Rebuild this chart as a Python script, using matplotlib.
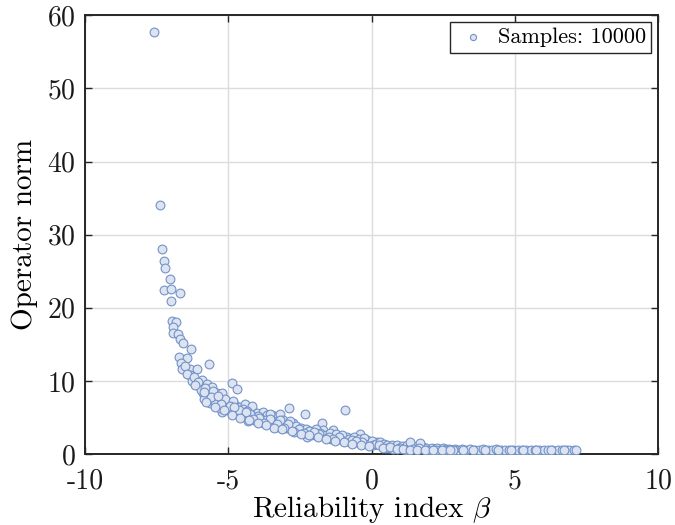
import numpy as np
import matplotlib
matplotlib.use('Agg')
import matplotlib.pyplot as plt

#%%%%%%%%%% Datos (beta, norma del operador)
# Puntos aislados arriba a la izquierda
beta_alto = [-7.59, -7.38, -7.30, -7.23, -7.20, -7.04, -7.23, -7.00, -6.68, -7.01,
             -6.97, -6.83, -6.94, -6.92, -6.74, -6.68, -6.59, -6.30, -6.72, -6.43,
             -6.66, -6.60, -5.67, -6.34, -6.10, -6.34, -6.26, -5.93, -5.99, -5.75,
             -5.58, -5.87, -5.70, -5.84, -5.64, -5.40, -5.23, -5.35, -5.17, -5.23,
             -4.86, -4.71, -5.06, -4.94, -4.76, -4.59, -4.42, -4.18, -4.65, -4.47]
norma_alto = [57.7, 34.0, 28.1, 26.4, 25.5, 23.9, 22.4, 22.6, 22.0, 20.9,
              18.2, 18.1, 17.4, 16.5, 16.4, 15.7, 15.2, 14.4, 13.3, 13.2,
              12.4, 11.6, 12.3, 11.6, 11.6, 10.8, 10.0, 10.1, 9.2, 9.6,
              9.2, 8.3, 8.1, 7.5, 7.0, 8.3, 8.3, 7.4, 7.1, 5.8,
              9.75, 8.85, 6.5, 6.9, 6.7, 6.5, 6.8, 6.6, 5.6, 5.8]

# Banda central (de -6.5 a 0)
beta_medio = [-4.30, -4.01, -4.30, -4.07, -3.78, -3.66, -3.49, -3.89, -3.37, -3.19,
              -3.14, -3.31, -3.54, -2.88, -2.32, -0.92, -1.74, -0.40, -3.08, -2.73,
              -2.50, -2.26, -2.03, -1.68, -1.33, -1.22, -0.87, -0.63, -0.17, 0.18,
              -6.50, -6.45, -6.20, -6.05, -5.95, -5.80, -5.55, -5.50, -5.45, -5.30,
              -5.10, -5.00, -4.90, -4.85, -4.70, -4.55, -4.50, -4.35, -4.20, -4.10,
              -3.95, -3.85, -3.70, -3.60, -3.45, -3.40, -3.25, -3.00, -2.95, -2.85,
              -2.80, -2.65, -2.60, -2.45, -2.40, -2.30, -2.15, -2.10, -1.95, -1.90,
              -1.80, -1.60, -1.55, -1.45, -1.40, -1.25, -1.10, -1.05, -0.95, -0.80,
              -0.75, -0.60, -0.50, -0.45, -0.30, -0.25, -0.10, 0.00, 0.05, 0.15,
              -5.60, -5.25, -4.95, -4.62, -4.25, -3.92, -3.55, -3.20, -2.90, -2.55,
              -2.20, -1.85, -1.50, -1.15, -0.70, -0.35, -4.80, -4.40, -3.75, -3.05,
              -2.70, -2.00, -1.35, -0.55, -6.15, -5.85, -5.35, -4.15, -3.30, -2.35,
              -5.78, -5.48, -5.15, -4.88, -4.58, -4.28, -3.98, -3.68, -3.42, -3.12,
              -2.78, -2.48, -2.18, -1.88, -1.58, -1.28, -0.98, -0.68, -0.38, -0.08]
norma_medio = [5.1, 5.6, 4.55, 4.9, 5.8, 5.3, 5.3, 4.4, 4.9, 5.55,
               4.2, 3.7, 5.55, 6.25, 5.55, 6.0, 4.2, 2.8, 4.65, 4.2,
               3.3, 2.4, 2.8, 3.3, 3.3, 2.4, 2.4, 1.9, 1.9, 1.7,
               12.0, 10.9, 10.5, 9.8, 8.8, 9.0, 8.6, 7.6, 6.9, 6.3,
               7.6, 6.2, 5.8, 7.2, 6.0, 5.2, 6.2, 5.9, 5.3, 4.6,
               5.2, 4.8, 4.6, 4.2, 4.5, 3.9, 4.4, 4.0, 3.6, 4.5,
               3.4, 3.8, 3.1, 3.6, 2.9, 3.4, 3.1, 2.6, 3.5, 2.5,
               2.9, 2.6, 2.2, 2.9, 2.1, 2.7, 2.0, 2.6, 1.8, 2.1,
               1.6, 2.3, 1.6, 2.0, 1.5, 2.2, 1.4, 1.8, 1.2, 1.4,
               7.8, 6.8, 6.6, 6.1, 5.5, 5.0, 4.8, 4.7, 4.1, 3.5,
               3.2, 2.7, 2.4, 2.3, 1.9, 1.7, 6.4, 5.7, 4.3, 3.6,
               3.0, 3.0, 2.0, 1.8, 9.4, 8.5, 7.9, 4.8, 4.1, 2.9,
               7.1, 6.5, 6.0, 5.4, 5.0, 4.7, 4.3, 4.0, 3.6, 3.5,
               3.2, 2.8, 2.6, 2.3, 2.0, 1.8, 1.6, 1.4, 1.3, 1.1]

# Cola derecha (beta > 0)
beta_bajo = [0.30, 0.35, 0.45, 0.55, 0.60, 0.70, 0.80, 0.90, 0.95, 1.05,
             1.15, 1.25, 1.30, 1.40, 1.50, 1.60, 1.70, 1.80, 1.90, 2.00,
             2.10, 2.20, 2.30, 2.40, 2.50, 2.60, 2.70, 2.80, 2.90, 3.00,
             3.15, 3.30, 3.45, 3.60, 3.75, 3.90, 4.05, 4.20, 4.35, 4.50,
             4.65, 4.80, 4.95, 5.10, 5.25, 5.40, 5.55, 5.70, 5.85, 6.00,
             6.15, 6.30, 6.50, 6.65, 6.80, 6.90, 7.05, 7.15, 1.34, 1.69,
             0.25, 0.50, 0.75, 1.00, 1.20, 1.45, 1.65, 1.95, 2.25, 2.55,
             2.85, 3.20, 3.55, 3.95, 4.40, 4.85, 5.30, 5.75, 6.25, 6.70,
             0.40, 0.65, 0.88, 1.10, 1.35, 1.58, 1.85, 2.15, 2.45, 2.75]
norma_bajo = [1.6, 1.1, 1.4, 1.2, 0.9, 1.3, 1.0, 1.2, 0.8, 1.1,
              0.9, 1.2, 0.75, 1.0, 0.8, 1.1, 0.7, 0.95, 0.8, 0.6,
              0.9, 0.7, 0.85, 0.6, 0.8, 0.65, 0.75, 0.55, 0.7, 0.6,
              0.7, 0.55, 0.65, 0.6, 0.55, 0.65, 0.6, 0.55, 0.65, 0.55,
              0.6, 0.5, 0.6, 0.55, 0.5, 0.6, 0.5, 0.55, 0.5, 0.55,
              0.5, 0.6, 0.5, 0.55, 0.5, 0.6, 0.5, 0.55, 1.7, 1.5,
              1.3, 0.8, 0.7, 0.8, 0.6, 0.7, 0.9, 0.6, 0.6, 0.55,
              0.5, 0.6, 0.5, 0.5, 0.5, 0.55, 0.6, 0.5, 0.5, 0.6,
              0.9, 1.0, 0.7, 0.65, 0.6, 0.55, 0.6, 0.5, 0.6, 0.5]

beta = np.array(beta_alto + beta_medio + beta_bajo)
norma = np.array(norma_alto + norma_medio + norma_bajo)
n_muestras = 10000

#%%%%%%%%%% Estilo tipo LaTeX
plt.rcParams['font.family'] = 'cmr10'
plt.rcParams['mathtext.fontset'] = 'cm'
plt.rcParams['axes.unicode_minus'] = False
plt.rcParams['axes.formatter.use_mathtext'] = True

#%%%%%%%%%% Gráfico
fig, ax = plt.subplots(figsize=(6.75, 5.25), dpi=100)
fig.subplots_adjust(left=0.126, right=0.975, top=0.971, bottom=0.135)

ax.scatter(beta, norma, s=40, facecolor='#dde3f0', edgecolor='#7293c9',
           linewidth=0.8, label=f'Samples: {n_muestras}', zorder=3)

ax.set_xlim(-10, 10)
ax.set_ylim(0, 60)
ax.set_xticks([-10, -5, 0, 5, 10])
ax.set_xticklabels(['-10', '-5', '0', '5', '10'])
ax.set_yticks(np.arange(0, 61, 10))
ax.set_xlabel(r'Reliability index $\beta$', fontsize=21, labelpad=0)
ax.set_ylabel('Operator norm', fontsize=21, labelpad=6)

ax.tick_params(direction='in', top=True, right=True, length=5, width=1,
               labelsize=20, colors='#262626', labelcolor='#1a1a1a')
ax.tick_params(axis='x', pad=10)
ax.tick_params(axis='y', pad=7)
for lado in ax.spines.values():
    lado.set_linewidth(1.4)
    lado.set_color('#262626')

ax.grid(True, color='#dcdcdc', linewidth=1)
ax.set_axisbelow(True)

leg = ax.legend(loc='upper right', fontsize=16, fancybox=False, framealpha=1,
                edgecolor='#262626', markerscale=0.7, borderpad=0.25,
                handletextpad=0.3, borderaxespad=0.3, handlelength=1.6)
leg.get_frame().set_linewidth(1)

fig.savefig('out.png', dpi=100)
